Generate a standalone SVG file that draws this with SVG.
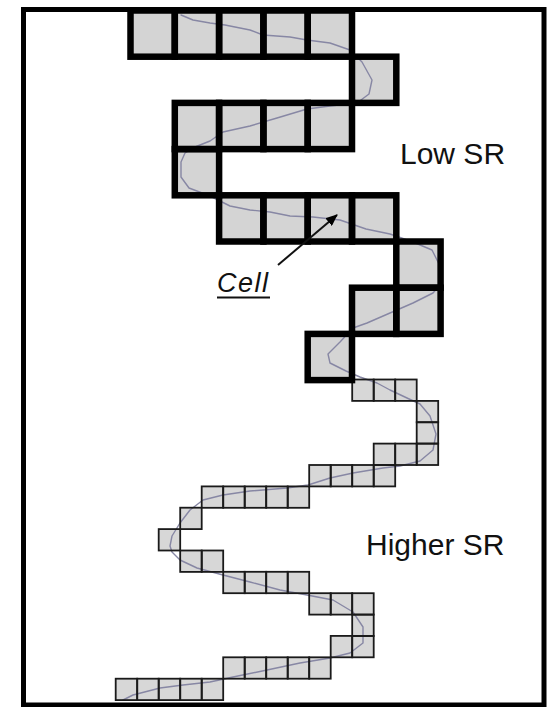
<svg xmlns="http://www.w3.org/2000/svg" xmlns:xlink="http://www.w3.org/1999/xlink" width="548" height="707" viewBox="0 0 548 707">
  <style>
    .lbl { font-family: "Liberation Sans", Arial, sans-serif; fill: #111; }
    .big-fill { fill: #d4d4d4; stroke: none; }
    .big-line { fill: none; stroke: #000; stroke-width: 6.5; stroke-linejoin: miter; }
    .small-fill { fill: #d7d7d7; stroke: none; }
    .small-line { fill: none; stroke: #1a1a1a; stroke-width: 1.8; }
    .track { fill: none; stroke: #8787a4; stroke-width: 1.4; stroke-linejoin: round; stroke-linecap: round; }
  </style>
  <defs>
    <marker id="arrowHead" viewBox="0 0 12 10" refX="11" refY="5" markerWidth="12" markerHeight="10" markerUnits="userSpaceOnUse" orient="auto">
      <path d="M0,0 L12,5 L0,10 Z" fill="#000"/>
    </marker>
    <!-- coarse raster: 44.3 x 46.2 cells -->
    <g id="bigCells">
      <rect x="130.5" y="10.5" width="44.3" height="46.2"/>
      <rect x="174.8" y="10.5" width="44.3" height="46.2"/>
      <rect x="219.1" y="10.5" width="44.3" height="46.2"/>
      <rect x="263.4" y="10.5" width="44.3" height="46.2"/>
      <rect x="307.7" y="10.5" width="44.3" height="46.2"/>
      <rect x="352.0" y="56.7" width="44.3" height="46.2"/>
      <rect x="174.8" y="102.9" width="44.3" height="46.2"/>
      <rect x="219.1" y="102.9" width="44.3" height="46.2"/>
      <rect x="263.4" y="102.9" width="44.3" height="46.2"/>
      <rect x="307.7" y="102.9" width="44.3" height="46.2"/>
      <rect x="174.8" y="149.1" width="44.3" height="46.2"/>
      <rect x="219.1" y="195.3" width="44.3" height="46.2"/>
      <rect x="263.4" y="195.3" width="44.3" height="46.2"/>
      <rect x="307.7" y="195.3" width="44.3" height="46.2"/>
      <rect x="352.0" y="195.3" width="44.3" height="46.2"/>
      <rect x="396.3" y="241.5" width="44.3" height="46.2"/>
      <rect x="352.0" y="287.7" width="44.3" height="46.2"/>
      <rect x="396.3" y="287.7" width="44.3" height="46.2"/>
      <rect x="307.7" y="333.9" width="44.3" height="46.2"/>
    </g>
    <!-- fine raster: 21.5 x 21.4 cells -->
    <g id="smallCells">
      <rect x="352.2" y="379.5" width="21.5" height="21.4"/>
      <rect x="373.7" y="379.5" width="21.5" height="21.4"/>
      <rect x="395.2" y="379.5" width="21.5" height="21.4"/>
      <rect x="416.7" y="400.9" width="21.5" height="21.4"/>
      <rect x="416.7" y="422.2" width="21.5" height="21.4"/>
      <rect x="373.7" y="443.6" width="21.5" height="21.4"/>
      <rect x="395.2" y="443.6" width="21.5" height="21.4"/>
      <rect x="416.7" y="443.6" width="21.5" height="21.4"/>
      <rect x="309.2" y="465.0" width="21.5" height="21.4"/>
      <rect x="330.7" y="465.0" width="21.5" height="21.4"/>
      <rect x="352.2" y="465.0" width="21.5" height="21.4"/>
      <rect x="373.7" y="465.0" width="21.5" height="21.4"/>
      <rect x="201.7" y="486.4" width="21.5" height="21.4"/>
      <rect x="223.2" y="486.4" width="21.5" height="21.4"/>
      <rect x="244.7" y="486.4" width="21.5" height="21.4"/>
      <rect x="266.2" y="486.4" width="21.5" height="21.4"/>
      <rect x="287.7" y="486.4" width="21.5" height="21.4"/>
      <rect x="180.2" y="507.7" width="21.5" height="21.4"/>
      <rect x="158.7" y="529.1" width="21.5" height="21.4"/>
      <rect x="180.2" y="550.5" width="21.5" height="21.4"/>
      <rect x="201.7" y="550.5" width="21.5" height="21.4"/>
      <rect x="223.2" y="571.8" width="21.5" height="21.4"/>
      <rect x="244.7" y="571.8" width="21.5" height="21.4"/>
      <rect x="266.2" y="571.8" width="21.5" height="21.4"/>
      <rect x="287.7" y="571.8" width="21.5" height="21.4"/>
      <rect x="309.2" y="593.2" width="21.5" height="21.4"/>
      <rect x="330.7" y="593.2" width="21.5" height="21.4"/>
      <rect x="352.2" y="593.2" width="21.5" height="21.4"/>
      <rect x="352.2" y="614.6" width="21.5" height="21.4"/>
      <rect x="330.7" y="635.9" width="21.5" height="21.4"/>
      <rect x="352.2" y="635.9" width="21.5" height="21.4"/>
      <rect x="223.2" y="657.3" width="21.5" height="21.4"/>
      <rect x="244.7" y="657.3" width="21.5" height="21.4"/>
      <rect x="266.2" y="657.3" width="21.5" height="21.4"/>
      <rect x="287.7" y="657.3" width="21.5" height="21.4"/>
      <rect x="309.2" y="657.3" width="21.5" height="21.4"/>
      <rect x="115.7" y="678.7" width="21.5" height="21.4"/>
      <rect x="137.2" y="678.7" width="21.5" height="21.4"/>
      <rect x="158.7" y="678.7" width="21.5" height="21.4"/>
      <rect x="180.2" y="678.7" width="21.5" height="21.4"/>
      <rect x="201.7" y="678.7" width="21.5" height="21.4"/>
    </g>
  </defs>

  <rect x="0" y="0" width="548" height="707" fill="#fff"/>

  <!-- outer frame -->
  <rect id="frame" x="23.5" y="9.5" width="520.5" height="695.5" fill="none" stroke="#000" stroke-width="5"/>

  <!-- cell fills -->
  <use xlink:href="#smallCells" class="small-fill"/>
  <use xlink:href="#bigCells" class="big-fill"/>

  <!-- traced line running through the cells -->
  <path id="track" class="track" d="M181,15 L193,20 L210,23 L225,25 L250,30 L263,35 L290,37 L307,40 L330,43 L350,50 L362,62 L372,80 L369,94 L357,103 L330,106 L307,109 L277,118 L250,126 L223,132 L210,141 L195,147 L185,153 L181,162 L181,177 L189,188 L210,196 L230,206 L250,210 L270,212 L290,216 L313,217 L340,220 L366,229 L390,234 L413,242 L432,250 L441,268 L440,285 L433,293 L413,303 L390,313 L367,323 L353,328 L340,342 L328,354 L330,363 L346,371 L360,377 L377,383 L390,390 L407,398 L420,404 L430,416 L436,434 L433,450 L420,461 L400,466 L383,468 L353,473 L330,478 L308,485 L287,488 L250,491 L223,495 L203,500 L190,510 L180,523 L172,536 L170,546 L172,552 L180,560 L197,568 L223,575 L250,582 L280,590 L307,595 L333,600 L353,612 L363,627 L363,643 L350,653 L330,658 L300,663 L267,670 L233,677 L210,682 L183,685 L160,688 L133,695 L123,700"/>

  <!-- cell borders -->
  <use xlink:href="#smallCells" class="small-line"/>
  <use xlink:href="#bigCells" class="big-line"/>

  <!-- labels -->
  <g id="label-low">
    <text class="lbl" x="400" y="164" font-size="30">Low SR</text>
  </g>
  <g id="label-higher">
    <text class="lbl" x="366" y="555" font-size="30">Higher SR</text>
  </g>
  <g id="label-cell">
    <text class="lbl" x="217" y="291.5" font-size="27" font-style="italic" textLength="51" lengthAdjust="spacing">Cell</text>
    <line x1="217" y1="297.5" x2="270" y2="297.5" stroke="#111" stroke-width="2"/>
  </g>

  <g id="connectors">
    <line x1="278" y1="265" x2="337" y2="215" stroke="#111" stroke-width="2" marker-end="url(#arrowHead)"/>
  </g>
</svg>
